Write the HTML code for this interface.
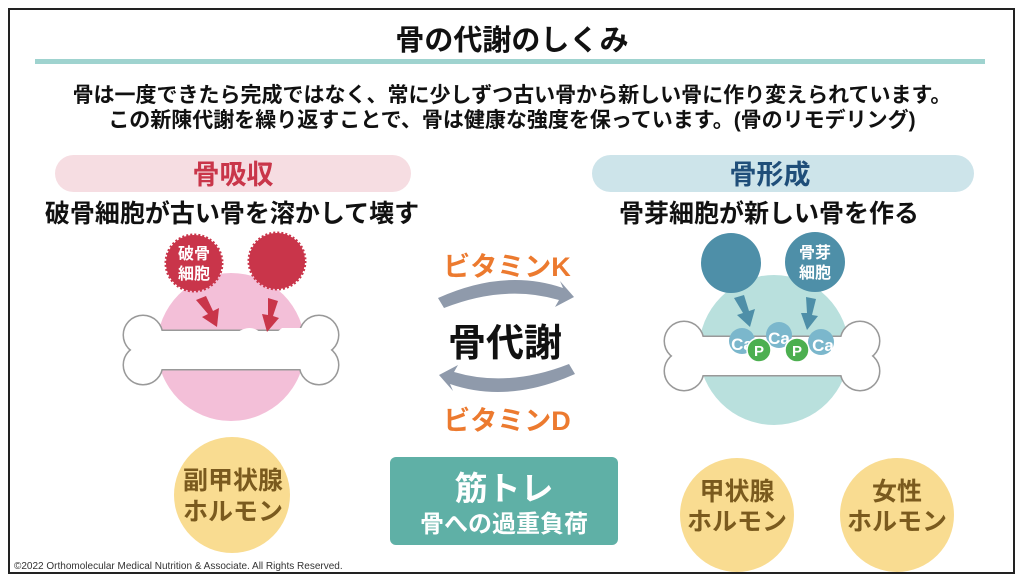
<!DOCTYPE html>
<html><head><meta charset="utf-8"><style>
html,body{margin:0;padding:0;background:#fff;}
svg{display:block;}
text{font-family:"Liberation Sans","Noto Sans CJK JP",sans-serif;font-weight:bold;}
</style></head><body>
<svg width="1024" height="585" viewBox="0 0 1024 585" xmlns="http://www.w3.org/2000/svg">
<defs>
<g id="bone">
  <rect x="-84" y="-19" width="168" height="38"/>
  <circle cx="-88" cy="-15" r="19"/><circle cx="-88" cy="15" r="19"/>
  <circle cx="88" cy="-15" r="19"/><circle cx="88" cy="15" r="19"/>
</g>
</defs>
<rect x="9" y="9" width="1005" height="564" fill="#fff" stroke="#222" stroke-width="2"/>
<text x="512" y="50" font-size="29" text-anchor="middle" fill="#111">骨の代謝のしくみ</text>
<rect x="35" y="59" width="950" height="5" fill="#9fd3cf"/>
<text x="512" y="102" font-size="21" text-anchor="middle" fill="#111">骨は一度できたら完成ではなく、常に少しずつ古い骨から新しい骨に作り変えられています。</text>
<text x="512" y="127" font-size="21" text-anchor="middle" fill="#111">この新陳代謝を繰り返すことで、骨は健康な強度を保っています。(骨のリモデリング)</text>

<rect x="55" y="155" width="356" height="37" rx="18.5" fill="#f6dde2"/>
<text x="233" y="184" font-size="27" text-anchor="middle" fill="#c9364a">骨吸収</text>
<text x="232" y="222" font-size="25" text-anchor="middle" fill="#111">破骨細胞が古い骨を溶かして壊す</text>
<rect x="592" y="155" width="382" height="37" rx="18.5" fill="#cde4ea"/>
<text x="770" y="184" font-size="27" text-anchor="middle" fill="#1f4e79">骨形成</text>
<text x="769" y="222" font-size="25" text-anchor="middle" fill="#111">骨芽細胞が新しい骨を作る</text>

<!-- left illustration -->
<circle cx="231" cy="347" r="74" fill="#f3bfd8"/>
<g transform="translate(231,350)" fill="#fff" stroke="#999" stroke-width="3"><use href="#bone"/></g>
<g transform="translate(231,350)" fill="#fff"><use href="#bone"/></g>
<path d="M200 340 q8 -12 18 -6 q10 8 20 -2 q12 -8 22 0 q12 6 22 -4 l30 0 l0 12 l-112 0z" fill="#fff"/>
<circle cx="194" cy="263" r="28" fill="#c9354a" stroke="#c9354a" stroke-width="3" stroke-dasharray="2 2"/>
<circle cx="277" cy="261" r="28" fill="#c9354a" stroke="#c9354a" stroke-width="3" stroke-dasharray="2 2"/>
<text x="194" y="259" font-size="16" text-anchor="middle" fill="#fff">破骨</text>
<text x="194" y="279" font-size="16" text-anchor="middle" fill="#fff">細胞</text>
<path d="M196 300 l10 -4 l7 15 l6 -3 l-2 19 l-15 -10 l6 -3z" fill="#c9354a"/>
<path d="M268 298 l10 3 l-5 15 l6 2 l-12 14 l-5 -18 l6 1z" fill="#c9354a"/>

<!-- right illustration -->
<circle cx="774" cy="350" r="75" fill="#b9e0dd"/>
<g transform="translate(772,356)" fill="#fff" stroke="#999" stroke-width="3"><use href="#bone"/></g>
<g transform="translate(772,356)" fill="#fff"><use href="#bone"/></g>
<circle cx="731" cy="263" r="30" fill="#4e8fa8"/>
<circle cx="815" cy="262" r="30" fill="#4e8fa8"/>
<text x="815" y="258" font-size="16" text-anchor="middle" fill="#fff">骨芽</text>
<text x="815" y="278" font-size="16" text-anchor="middle" fill="#fff">細胞</text>
<path d="M734 298 l10 -3 l5 16 l6 -2 l-5 18 l-13 -12 l6 -2z" fill="#4e8fa8"/>
<path d="M806 297 l10 2 l-4 16 l6 1 l-11 14 l-6 -17 l6 0z" fill="#4e8fa8"/>
<circle cx="742" cy="341" r="13" fill="#7bb7cc"/>
<circle cx="779" cy="335" r="13" fill="#7bb7cc"/>
<circle cx="821" cy="342" r="13" fill="#7bb7cc"/>
<text x="742" y="350" font-size="17" text-anchor="middle" fill="#fff">Ca</text>
<text x="779" y="344" font-size="17" text-anchor="middle" fill="#fff">Ca</text>
<text x="823" y="351" font-size="17" text-anchor="middle" fill="#fff">Ca</text>
<circle cx="759" cy="350" r="12" fill="#4caf50" stroke="#fff" stroke-width="1.5"/>
<circle cx="797" cy="350" r="12" fill="#4caf50" stroke="#fff" stroke-width="1.5"/>
<text x="759" y="356" font-size="15" text-anchor="middle" fill="#fff">P</text>
<text x="797" y="356" font-size="15" text-anchor="middle" fill="#fff">P</text>

<!-- center -->
<text x="507" y="276" font-size="27" text-anchor="middle" fill="#ec7a2f">ビタミンK</text>
<path d="M438 298 Q505 268 563 288 L560 281 L574 297 L555 307 L559 300 Q505 284 444 308 Z" fill="#8f9aab"/>
<text x="505" y="356" font-size="38" text-anchor="middle" fill="#111">骨代謝</text>
<path d="M575 374 Q508 404 450 384 L453 391 L439 375 L458 365 L454 372 Q508 388 569 364 Z" fill="#8f9aab"/>
<text x="507" y="430" font-size="27" text-anchor="middle" fill="#ec7a2f">ビタミンD</text>

<!-- bottom -->
<circle cx="232" cy="495" r="58" fill="#f9dc91"/>
<text x="233" y="489" font-size="25" text-anchor="middle" fill="#7a5a1e">副甲状腺</text>
<text x="233" y="520" font-size="25" text-anchor="middle" fill="#7a5a1e">ホルモン</text>
<rect x="390" y="457" width="228" height="88" rx="6" fill="#5fb0a6"/>
<text x="504" y="500" font-size="33" text-anchor="middle" fill="#fff">筋トレ</text>
<text x="504" y="532" font-size="24" text-anchor="middle" fill="#fff">骨への過重負荷</text>
<circle cx="737" cy="515" r="57" fill="#f9dc91"/>
<text x="737" y="500" font-size="25" text-anchor="middle" fill="#7a5a1e">甲状腺</text>
<text x="737" y="530" font-size="25" text-anchor="middle" fill="#7a5a1e">ホルモン</text>
<circle cx="897" cy="515" r="57" fill="#f9dc91"/>
<text x="897" y="500" font-size="25" text-anchor="middle" fill="#7a5a1e">女性</text>
<text x="897" y="530" font-size="25" text-anchor="middle" fill="#7a5a1e">ホルモン</text>
<text x="14" y="569" font-size="10" fill="#333" style="font-weight:normal">©2022 Orthomolecular Medical Nutrition &amp; Associate. All Rights Reserved.</text>
</svg>
</body></html>
